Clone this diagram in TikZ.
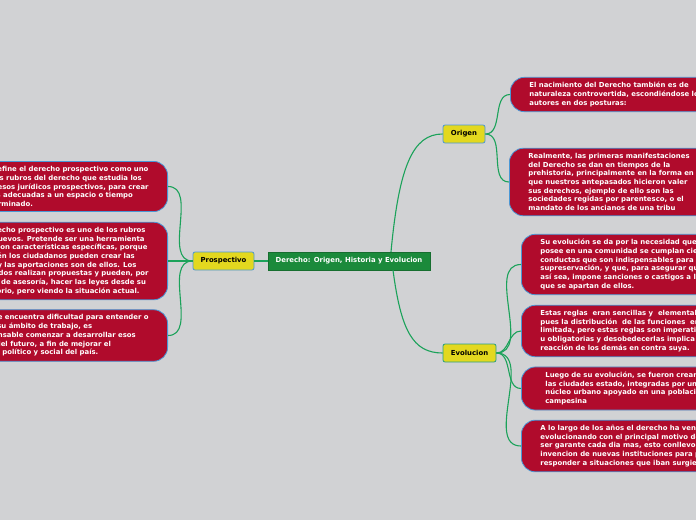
\documentclass[tikz,border=0pt]{standalone}
\usepackage{fontspec}
\setmainfont{DejaVu Sans}

\definecolor{fondo}{HTML}{D1D2D4}
\definecolor{rojo}{HTML}{B00B2C}
\definecolor{borde}{HTML}{4A98D6}
\definecolor{verde}{HTML}{1B8A3B}
\definecolor{amarillo}{HTML}{E3D81F}
\definecolor{linea}{HTML}{1BA25A}

\begin{document}
\begin{tikzpicture}[x=1pt,y=-1pt,
    every node/.style={font=\bfseries\fontsize{6.9}{8.7}\selectfont},
    nota/.style={draw=borde, fill=rojo, text=white, rounded corners=14pt,
      align=left, inner xsep=19pt, inner ysep=5pt, line width=0.8pt},
    tema/.style={draw=borde, fill=amarillo, text=black, rounded corners=2pt,
      minimum height=18pt, inner sep=0pt, line width=0.8pt},
    rama/.style={draw=linea, line width=1.1pt}]
  \useasboundingbox (0,0) rectangle (696,520);
  \fill[fondo] (0,0) rectangle (696,520);
  \clip (0,0) rectangle (696,520);

  % temas
  \node[draw=verde!80!black, fill=verde, text=white, minimum width=162pt,
    minimum height=18pt, inner sep=0pt] (ctr) at (349,261)
    {Derecho: Origen, Historia y Evolucion};
  \node[tema, minimum width=61pt] (pro) at (223.5,261) {Prospectivo};
  \node[tema, minimum width=42pt] (ori) at (464,134) {Origen};
  \node[tema, draw=linea!70!borde, minimum width=53pt] (evo) at (469.5,353) {Evolucion};

  % prospectivo
  \node[nota, anchor=east] (p1) at (168,186.5)
    {Se define el derecho prospectivo como uno\\
     de los rubros del derecho que estudia los\\
     procesos jurídicos prospectivos, para crear\\
     leyes adecuadas a un espacio o tiempo\\
     determinado.};
  \node[nota, anchor=east] (p2) at (168,261)
    {El derecho prospectivo es uno de los rubros\\
     más nuevos. Pretende ser una herramienta\\
     legal con características específicas, porque\\
     también los ciudadanos pueden crear las\\
     leyes y las aportaciones son de ellos. Los\\
     abogados realizan propuestas y pueden, por\\
     medio de asesoría, hacer las leyes desde su\\
     escritorio, pero viendo la situación actual.};
  \node[nota, anchor=east] (p3) at (168,335.5)
    {Como se encuentra dificultad para entender o\\
     definir su ámbito de trabajo, es\\
     indispensable comenzar a desarrollar esos\\
     temas del futuro, a fin de mejorar el\\
     sistema político y social del país.};

  % origen
  \node[nota, anchor=west] (o1) at (510,94.5)
    {El nacimiento del Derecho también es de\\
     naturaleza controvertida, escondiéndose los\\
     autores en dos posturas:};
  \node[nota, anchor=west] (o2) at (509,182)
    {Realmente, las primeras manifestaciones\\
     del Derecho se dan en tiempos de la\\
     prehistoria, principalmente en la forma en\\
     que nuestros antepasados hicieron valer\\
     sus derechos, ejemplo de ello son las\\
     sociedades regidas por parentesco, o el\\
     mandato de los ancianos de una tribu};

  % evolucion
  \node[nota, anchor=west] (e1) at (521,264.5)
    {Su evolución se da por la necesidad que se\\
     posee en una comunidad se cumplan ciertas\\
     conductas que son indispensables para su\\
     supreservación, y que, para asegurar que\\
     así sea, impone sanciones o castigos a los\\
     que se apartan de ellos.};
  \node[nota, anchor=west] (e2) at (521,331)
    {Estas reglas\ \ eran sencillas y\ \ elementales\\
     pues la distribución\ \ de las funciones\ \ era\\
     limitada, pero estas reglas son imperativas\\
     u obligatorias y desobedecerlas implica la\\
     reacción de los demás en contra suya.};
  \node[nota, anchor=west, inner xsep=24pt] (e3) at (521,388.5)
    {Luego de su evolución, se fueron creando\\
     las ciudades estado, integradas por un\\
     núcleo urbano apoyado en una población\\
     campesina};
  \node[nota, anchor=west] (e4) at (521,446)
    {A lo largo de los años el derecho ha venido\\
     evolucionando con el principal motivo de\\
     ser garante cada dia mas, esto conllevo la\\
     invencion de nuevas instituciones para poder\\
     responder a situaciones que iban surgiendo};

  % ramas
  \draw[rama] (ctr.west) -- (pro.east);
  \draw[rama] ([xshift=42pt]ctr.north) .. controls +(8,-85) and +(-30,0) .. (ori.west);
  \draw[rama] ([xshift=44pt]ctr.south) .. controls +(8,60) and +(-30,0) .. (evo.west);
  \foreach \n in {p1,p2,p3}
    \draw[rama] (pro.west) to[out=180,in=0] (\n.east);
  \foreach \n in {o1,o2}
    \draw[rama] (ori.east) to[out=0,in=180] (\n.west);
  \foreach \n in {e1,e2,e3,e4}
    \draw[rama] (evo.east) to[out=0,in=180] (\n.west);
\end{tikzpicture}
\end{document}
